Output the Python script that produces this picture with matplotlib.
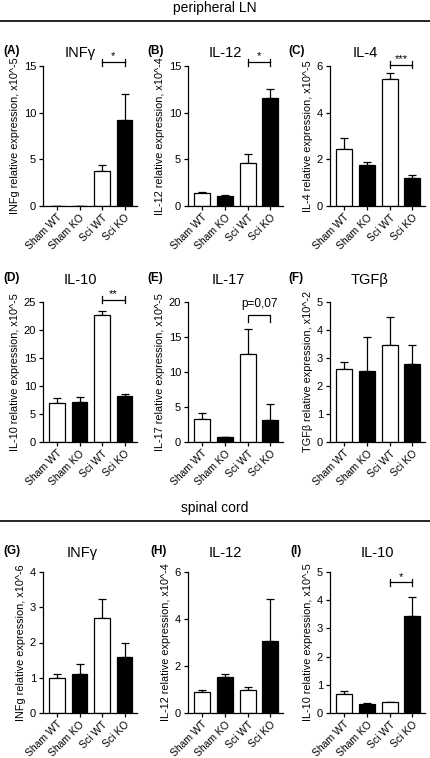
import matplotlib.pyplot as plt
import numpy as np

plt.rcParams['font.family'] = ['Liberation Sans', 'DejaVu Sans']

groups = ["Sham WT", "Sham KO", "Sci WT", "Sci KO"]
fills = ["white", "black", "white", "black"]

# one entry per panel: letter, title, ylabel, ticks, means, upper errors
letters = ["(A)", "(B)", "(C)", "(D)", "(E)", "(F)", "(G)", "(H)", "(I)"]
titles = ["INFγ", "IL-12", "IL-4", "IL-10", "IL-17", "TGFβ", "INFγ", "IL-12", "IL-10"]
ylabels = ["INFg relative expression, x10^-5",
           "IL-12 relative expression, x10^-4",
           "IL-4 relative expression, x10^-5",
           "IL-10 relative expression, x10^-5",
           "IL-17 relative expression, x10^-5",
           "TGFβ relative expression, x10^-2",
           "INFg relative expression, x10^-6",
           "IL-12 relative expression, x10^-4",
           "IL-10 relative expression, x10^-5"]
yticks = [[0, 5, 10, 15], [0, 5, 10, 15], [0, 2, 4, 6],
          [0, 5, 10, 15, 20, 25], [0, 5, 10, 15, 20], [0, 1, 2, 3, 4, 5],
          [0, 1, 2, 3, 4], [0, 2, 4, 6], [0, 1, 2, 3, 4, 5]]
means = [[0, 0, 3.7, 9.2],
         [1.4, 1.1, 4.6, 11.6],
         [2.45, 1.75, 5.45, 1.22],
         [6.9, 7.2, 22.7, 8.2],
         [3.35, 0.75, 12.5, 3.1],
         [2.6, 2.55, 3.45, 2.8],
         [1.0, 1.1, 2.7, 1.6],
         [0.9, 1.52, 0.98, 3.05],
         [0.68, 0.32, 0.4, 3.45]]
errors = [[0, 0, 0.7, 2.85],
          [0.08, 0.08, 1.0, 0.9],
          [0.45, 0.15, 0.25, 0.11],
          [0.9, 0.9, 0.7, 0.4],
          [0.75, 0.0, 3.6, 2.3],
          [0.25, 1.2, 1.0, 0.65],
          [0.1, 0.3, 0.52, 0.4],
          [0.1, 0.13, 0.12, 1.8],
          [0.1, 0.03, 0.0, 0.67]]
# significance between Sci WT and Sci KO: (label, bar height, style)
signif = {0: ("*", 15.4, "cap"), 1: ("*", 15.4, "cap"), 2: ("***", 6.05, "cap"),
          3: ("**", 25.4, "cap"), 4: ("p=0,07", 18.2, "hook"), 8: ("*", 4.63, "cap")}

W, H = 431, 758
fig = plt.figure(figsize=(W / 100, H / 100), dpi=100)

rows = [(66, 206), (302, 442), (572, 713)]
cols = [(43, 137), (188, 283), (330, 425)]
title_x = [[80, 225, 365], [80, 228, 370], [82, 225, 377]]
letter_x = [[3, 147, 288], [3, 147, 288], [3, 150, 290]]
title_y = [53, 280, 553]


def px_axes(left, top, right, bottom):
    return fig.add_axes([left / W, 1 - bottom / H, (right - left) / W, (bottom - top) / H])


x = np.arange(len(groups))
for i in range(9):
    r, c = divmod(i, 3)
    top, bottom = rows[r]
    left, right = cols[c]
    ax = px_axes(left, top, right, bottom)
    ax.bar(x, means[i], width=0.7, color=fills, edgecolor="black", linewidth=0.9, zorder=2)
    err = np.array(errors[i])
    ax.errorbar(x, means[i], yerr=[np.zeros(4), err], fmt="none", ecolor="black",
                elinewidth=0.9, capsize=3, capthick=0.9, zorder=1)
    ax.set_xlim(-0.62, 3.55)
    ax.set_ylim(0, yticks[i][-1])
    ax.set_yticks(yticks[i])
    ax.set_yticklabels([str(t) for t in yticks[i]], fontsize=8)
    ax.set_xticks(x)
    ax.set_xticklabels(groups, rotation=45, ha="right", rotation_mode="anchor", fontsize=7.5)
    ax.tick_params(axis="y", direction="out", length=3, width=0.9, pad=2)
    ax.tick_params(axis="x", direction="out", length=3, width=0.9, pad=1.5)
    ax.spines["top"].set_visible(False)
    ax.spines["right"].set_visible(False)
    ax.spines["left"].set_linewidth(0.9)
    ax.spines["bottom"].set_linewidth(0.9)
    ax.set_ylabel(ylabels[i], fontsize=7.8, labelpad=3)

    if i in signif:
        lab, h, style = signif[i]
        span = yticks[i][-1]
        if style == "cap":
            ax.plot([2, 3], [h, h], color="black", lw=0.9, clip_on=False)
            for xx in (2, 3):
                ax.plot([xx, xx], [h - span * 0.025, h + span * 0.025], color="black", lw=0.9, clip_on=False)
            ax.text(2.5, h + span * 0.005, lab, ha="center", va="bottom", fontsize=8)
        else:
            ax.plot([2, 2, 3, 3], [h - span * 0.05, h, h, h - span * 0.05], color="black", lw=0.9, clip_on=False)
            ax.text(2.5, h + span * 0.03, lab, ha="center", va="bottom", fontsize=8.5)

    fig.text(title_x[r][c] / W, 1 - title_y[r] / H, titles[i], ha="center", va="center", fontsize=10.5)
    fig.text(letter_x[r][c] / W, 1 - (title_y[r] - 2) / H, letters[i], ha="left", va="center",
             fontsize=8.5, fontweight="bold")

# section headings with rules
fig.text(215 / W, 1 - 8 / H, "peripheral LN", ha="center", va="center", fontsize=10)
fig.add_artist(plt.Line2D([0, 1], [1 - 21 / H, 1 - 21 / H], color="black", lw=1.2))
fig.text(215 / W, 1 - 508 / H, "spinal cord", ha="center", va="center", fontsize=10)
fig.add_artist(plt.Line2D([0, 1], [1 - 521 / H, 1 - 521 / H], color="black", lw=1.2))

plt.savefig("out.png", dpi=100)
